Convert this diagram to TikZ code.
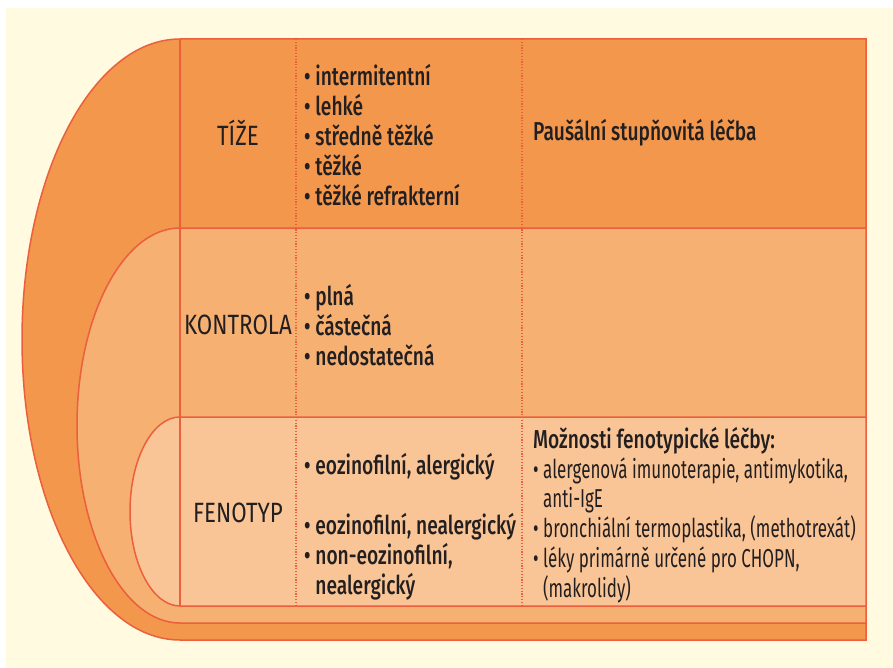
\documentclass[tikz,border=0pt]{standalone}
\usepackage{fontspec}
\setmainfont{Fira Sans}[FakeStretch=0.655,BoldFont={Fira Sans Medium},BoldFeatures={FakeStretch=0.74}]
\newfontfamily\headfont{Fira Sans}[FakeStretch=0.8]
\usepackage{tikz}
\definecolor{cream}{HTML}{FFFAE0}
\definecolor{dark}{HTML}{F2974C}
\definecolor{mid}{HTML}{F6B072}
\definecolor{light}{HTML}{FAC596}
\definecolor{edge}{HTML}{EB5F3C}
\definecolor{ink}{HTML}{231F20}
\tikzstyle{band} = [draw=edge, line width=1.5bp]
\tikzstyle{sep} = [draw=edge, line width=1.5bp, dash pattern=on 1.2bp off 1.6bp]
\tikzstyle{head} = [text=ink, inner sep=0pt, font=\headfont\fontsize{28}{30}\selectfont]
\tikzstyle{items} = [anchor=west, align=left, inner sep=0pt, text=ink, font=\fontsize{26}{30}\selectfont]

\begin{document}
\begin{tikzpicture}[x=1bp, y=-1bp]
\useasboundingbox (0,0) rectangle (893,668);
\fill [cream] (6,8) rectangle (893,668);

\filldraw [band, fill=dark] (866,39) -- (180,39) arc[start angle=270, end angle=90, x radius=158, y radius=300.5] -- (866,640) -- cycle;
\filldraw [band, fill=mid] (866,228) -- (180,228) arc[start angle=270, end angle=90, x radius=103, y radius=197.5] -- (866,623) -- cycle;
\filldraw [band, fill=light] (866,417) -- (180,417) arc[start angle=270, end angle=90, x radius=50, y radius=94.5] -- (866,606) -- cycle;

\draw [band] (180,39) -- (180,606);
\draw [sep] (296,39) -- (296,606);
\draw [sep] (522,39) -- (522,606);

\node [head] (t) at (238,133) {TÍŽE};
\node [items, font=\fontsize{26}{30}\selectfont\bfseries] (t1) at (304,135) {• intermitentní\\• lehké\\• středně těžké\\• těžké\\• těžké refrakterní};
\node [items, font=\fontsize{26}{30}\selectfont\bfseries] (t2) at (533,133) {Paušální stupňovitá léčba};

\node [head] (k) at (238,325) {KONTROLA};
\node [items, font=\fontsize{26}{30}\selectfont\bfseries] (k1) at (304,325) {• plná\\• částečná\\• nedostatečná};

\node [head] (f) at (238,513) {FENOTYP};
\node [items, font=\fontsize{26}{30}\selectfont\bfseries] (f1) at (304,527) {• eozinofilní, alergický\\[30bp]• eozinofilní, nealergický\\• non-eozinofilní,\\\phantom{• }nealergický};
\node [items] (f2) at (533,515) {\textbf{Možnosti fenotypické léčby:}\\• alergenová imunoterapie, antimykotika,\\\phantom{• }anti-IgE\\• bronchiální termoplastika, (methotrexát)\\• léky primárně určené pro CHOPN,\\\phantom{• }(makrolidy)};
\end{tikzpicture}
\end{document}
